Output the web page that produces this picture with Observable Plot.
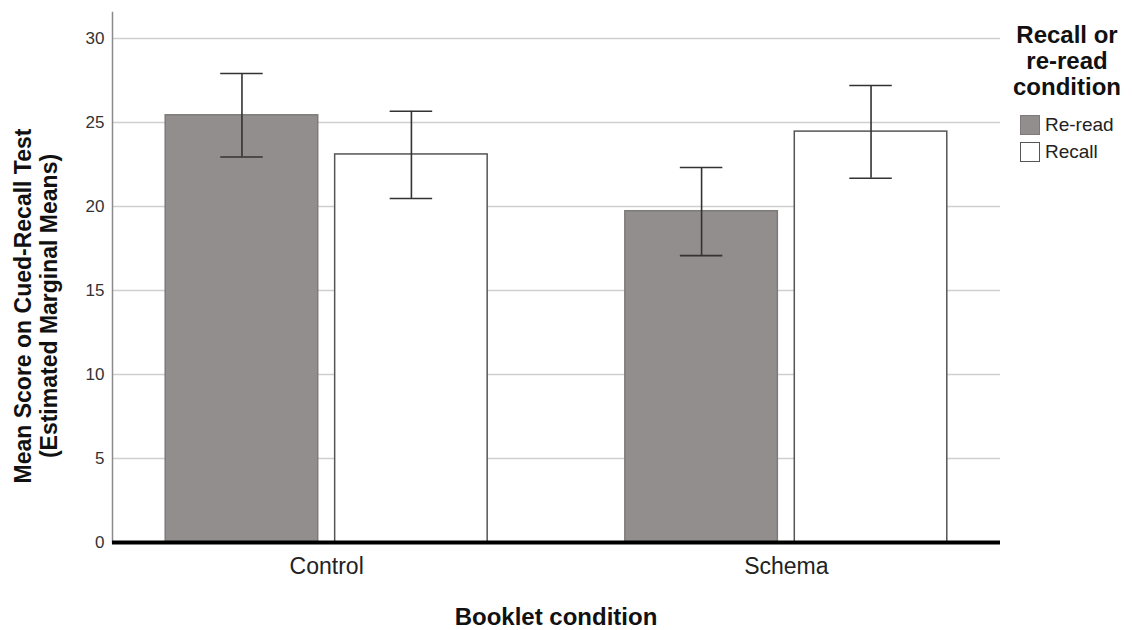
<!DOCTYPE html>
<html>
<head>
<meta charset="utf-8">
<script src="https://cdn.jsdelivr.net/npm/d3@7"></script>
<script src="https://cdn.jsdelivr.net/npm/@observablehq/plot@0.6"></script>
<style>
  html, body { margin: 0; padding: 0; background: #fff; }
  body { font-family: "Liberation Sans", Arial, sans-serif; }
  #wrap { position: relative; width: 1134px; height: 630px; overflow: hidden; background: #fff; }
  .layer { position: absolute; left: 0; top: 0; }
  #ytitle {
    position: absolute; left: -214px; top: 280px; width: 500px; height: 52px;
    line-height: 26px; text-align: center; font-weight: bold; font-size: 23px; color: #111;
    transform: rotate(-90deg); transform-origin: 50% 50%; white-space: nowrap;
  }
  #xtitle {
    position: absolute; left: 256px; top: 603px; width: 600px; line-height: 28px;
    text-align: center; font-weight: bold; font-size: 24px; color: #111;
  }
  #legend { position: absolute; left: 1000px; top: 22px; width: 134px; }
  #legend .ttl { text-align: center; font-weight: bold; font-size: 24px; line-height: 26px; color: #111; }
  #legend .item { position: relative; height: 27px; margin-left: 20px; font-size: 19px; color: #222; line-height: 27px; }
  #legend .sw { position: absolute; left: 0; top: 4px; width: 18px; height: 18px; box-sizing: content-box; }
  #legend .lab { position: absolute; left: 25px; top: 0; }
</style>
</head>
<body>
<div id="wrap">
  <div id="grid" class="layer"></div>
  <div id="bars" class="layer"></div>
  <div id="base" class="layer"></div>
  <div id="ytitle"></div>
  <div id="xtitle"></div>
  <div id="legend"></div>
</div>
<script>
// ---- data ----
const booklets = ["Control", "Schema"];
const conditions = ["Re-read", "Recall"];
// order: Control/Re-read, Control/Recall, Schema/Re-read, Schema/Recall
const means = [25.43, 23.10, 19.72, 24.46];
const lower = [22.95, 20.48, 17.08, 21.68];
const upper = [27.92, 25.67, 22.32, 27.20];
const yTicks = [0, 5, 10, 15, 20, 25, 30];
const gridTicks = [5, 10, 15, 20, 25, 30];
const yTitleLines = ["Mean Score on Cued-Recall Test", "(Estimated Marginal Means)"];
const xTitle = "Booklet condition";
const legendTitleLines = ["Recall or", "re-read", "condition"];
const fills = ["#928e8d", "#ffffff"];
const strokes = ["#7d7a79", "#555555"];

const rows = [];
booklets.forEach((b, i) => conditions.forEach((c, j) => {
  const k = i * conditions.length + j;
  rows.push({booklet: b, condition: c, mean: means[k], lo: lower[k], hi: upper[k]});
}));

// shared frame settings
const frame = {
  width: 1000, height: 585,
  marginLeft: 112, marginRight: 0, marginTop: 12, marginBottom: 43
};
const yScale = {domain: [0, 31.55], label: null};
const font = "'Liberation Sans', Arial, sans-serif";

// layer 1: full-width gridlines and axis line
const gridPlot = Plot.plot({
  ...frame,
  style: {fontFamily: font, background: "white", overflow: "visible"},
  y: {...yScale, axis: null},
  marks: [
    Plot.ruleY(gridTicks, {stroke: "#cfcfcf", strokeWidth: 1.6}),
    Plot.frame({anchor: "left", stroke: "#8a8a8a", strokeWidth: 1.5})
  ]
});

// layer 2: faceted bars, error bars, axes
const barPlot = Plot.plot({
  ...frame,
  style: {fontFamily: font, background: "transparent", color: "#333", overflow: "visible"},
  fx: {domain: booklets, paddingInner: 0.068, paddingOuter: 0, round: false, label: null},
  x: {domain: conditions, paddingInner: 0.1, paddingOuter: 0.314, round: false, axis: null},
  y: yScale,
  color: {domain: conditions, range: fills},
  marks: [
    Plot.barY(rows, {fx: "booklet", x: "condition", y: "mean", fill: "condition",
      stroke: d => strokes[conditions.indexOf(d.condition)], strokeWidth: 1.5}),
    Plot.ruleX(rows, {fx: "booklet", x: "condition", y1: "lo", y2: "hi", stroke: "#333", strokeWidth: 1.6}),
    Plot.tickY(rows, {fx: "booklet", x: "condition", y: "lo", stroke: "#333", strokeWidth: 1.6, insetLeft: 55, insetRight: 55}),
    Plot.tickY(rows, {fx: "booklet", x: "condition", y: "hi", stroke: "#333", strokeWidth: 1.6, insetLeft: 55, insetRight: 55}),
    Plot.axisY(yTicks, {anchor: "left", tickSize: 0, tickPadding: 8, fontSize: 17, fill: "#333", label: null}),
    Plot.axisFx({anchor: "bottom", tickSize: 0, tickPadding: 15, fontSize: 23, fill: "#222", label: null})
  ]
});

// layer 3: thick baseline at zero over the bars
const basePlot = Plot.plot({
  ...frame,
  style: {fontFamily: font, background: "transparent", overflow: "visible"},
  y: {...yScale, axis: null},
  marks: [
    Plot.ruleY([0], {stroke: "#000", strokeWidth: 4})
  ]
});

document.getElementById("grid").appendChild(gridPlot);
document.getElementById("bars").appendChild(barPlot);
document.getElementById("base").appendChild(basePlot);

document.getElementById("ytitle").innerHTML = yTitleLines.map(t => `<div>${t}</div>`).join("");
document.getElementById("xtitle").textContent = xTitle;

const leg = document.getElementById("legend");
leg.innerHTML = legendTitleLines.map(t => `<div class="ttl">${t}</div>`).join("") +
  `<div style="height:11px"></div>` +
  conditions.map((c, i) =>
    `<div class="item"><span class="sw" style="background:${fills[i]};border:1px solid ${strokes[i]}"></span><span class="lab">${c}</span></div>`
  ).join("");
</script>
</body>
</html>
